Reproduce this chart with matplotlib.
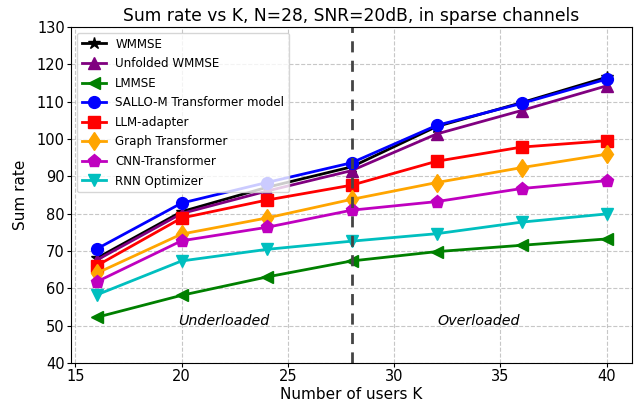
import matplotlib
matplotlib.use("Agg")
import matplotlib.pyplot as plt

# number of users K
users = [16, 20, 24, 28, 32, 36, 40]

wmmse = [68.0, 80.5, 87.0, 92.5, 103.3, 109.7, 116.5]
unfolded_wmmse = [67.5, 80.0, 86.0, 91.5, 101.3, 107.6, 114.2]
lmmse = [52.2, 58.1, 63.0, 67.3, 69.8, 71.5, 73.2]
sallo_m = [70.5, 82.8, 88.3, 93.6, 103.6, 109.5, 116.0]
llm_adapter = [66.0, 78.8, 83.6, 87.6, 94.0, 97.8, 99.5]
graph_transformer = [64.0, 74.5, 78.8, 83.8, 88.3, 92.3, 95.9]
cnn_transformer = [61.7, 72.7, 76.3, 80.9, 83.2, 86.7, 88.8]
rnn_optimizer = [58.2, 67.3, 70.4, 72.6, 74.6, 77.7, 79.9]

threshold_k = 28

fig, ax = plt.subplots(figsize=(6.34, 4.01), dpi=100)

ax.plot(users, wmmse, color='black', marker='*', markersize=9, linewidth=2, label='WMMSE')
ax.plot(users, unfolded_wmmse, color='purple', marker='^', markersize=8.5, linewidth=2, label='Unfolded WMMSE')
ax.plot(users, lmmse, color='green', marker='<', markersize=8.5, linewidth=2, label='LMMSE')
ax.plot(users, sallo_m, color='blue', marker='o', markersize=8.5, linewidth=2, label='SALLO-M Transformer model')
ax.plot(users, llm_adapter, color='red', marker='s', markersize=8.5, linewidth=2, label='LLM-adapter')
ax.plot(users, graph_transformer, color='orange', marker='d', markersize=9.5, linewidth=2, label='Graph Transformer')
ax.plot(users, cnn_transformer, color='m', marker='p', markersize=9.5, linewidth=2, label='CNN-Transformer')
ax.plot(users, rnn_optimizer, color='c', marker='v', markersize=8.5, linewidth=2, label='RNN Optimizer')

# split between under- and overloaded regime
ax.axvline(threshold_k, color='#444444', linestyle='--', linewidth=2, dashes=(4, 3))
ax.text(22, 51.2, 'Underloaded', fontsize=10.3, style='italic', ha='center', va='center')
ax.text(34, 51.2, 'Overloaded', fontsize=10.3, style='italic', ha='center', va='center')

ax.set_ylim(40, 130)
ax.set_xticks([15, 20, 25, 30, 35, 40])
ax.tick_params(labelsize=10.5, length=3, pad=1.5)
ax.set_xlabel('Number of users K', fontsize=11, labelpad=2)
ax.set_ylabel('Sum rate', fontsize=11, labelpad=6)
ax.set_title('Sum rate vs K, N=28, SNR=20dB, in sparse channels', fontsize=12.3, pad=4)
ax.grid(True, linestyle='--', alpha=0.7)
ax.legend(loc='upper left', fontsize=8.6, labelspacing=0.55)

plt.subplots_adjust(left=0.112, right=0.997, top=0.933, bottom=0.095)
plt.savefig('out.png', dpi=100)
